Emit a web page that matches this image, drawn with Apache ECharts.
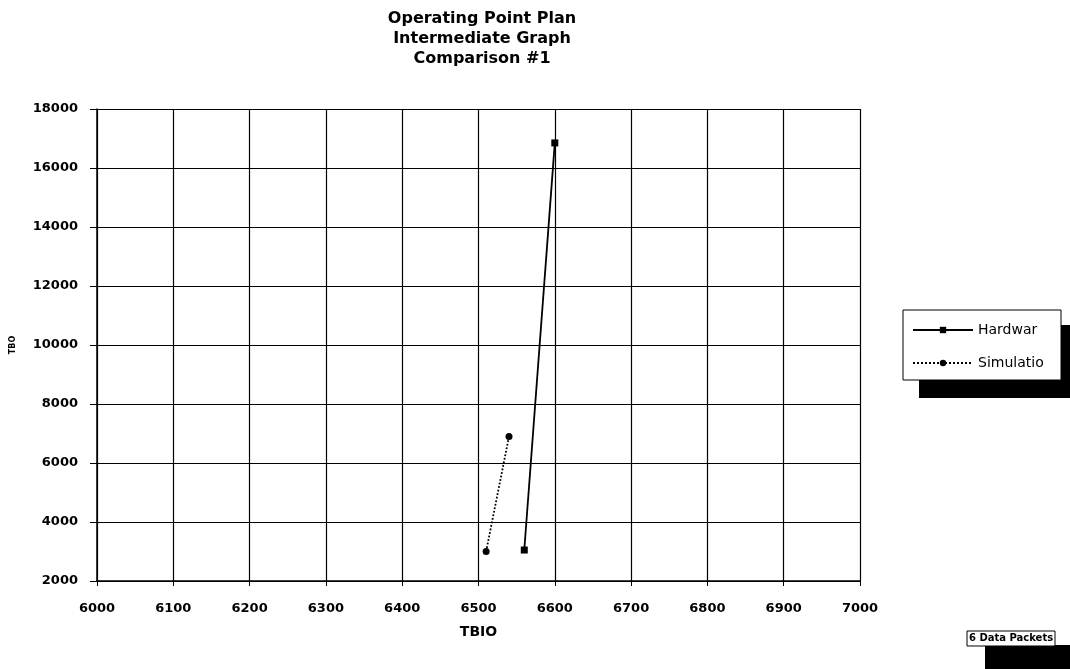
<!DOCTYPE html>
<html><head><meta charset="utf-8">
<script src="https://cdn.jsdelivr.net/npm/echarts@6/dist/echarts.min.js"></script>
<style>html,body{margin:0;padding:0;background:#fff}#c{width:1070px;height:669px}</style>
</head><body><div id="c"></div>
<script>
const titleLines = ['Operating Point Plan', 'Intermediate Graph', 'Comparison #1'];
const xName = 'TBIO';
const yName = 'TBO';
const seriesNames = ['Hardwar', 'Simulatio'];
const hardwareX = [6560, 6600];
const hardwareY = [3050, 16850];
const simulationX = [6510, 6540];
const simulationY = [3000, 6900];
const packetsNote = '6 Data Packets';

const font = '"DejaVu Sans", sans-serif';
const chart = echarts.init(document.getElementById('c'));
const pairs = (xs, ys) => xs.map((x, i) => [x, ys[i]]);

chart.setOption({
  animation: false,
  backgroundColor: '#fff',
  title: {
    text: titleLines.join('\n'),
    left: 477, top: 4, textAlign: 'center',
    textStyle: { fontFamily: font, fontSize: 16, fontWeight: 'bold', color: '#000', lineHeight: 20 }
  },
  grid: { left: 97, right: 210, top: 109, bottom: 88 },
  xAxis: {
    type: 'value', min: 6000, max: 7000, interval: 100,
    name: xName, nameLocation: 'middle', nameGap: 51, nameMoveOverlap: false,
    nameTextStyle: { fontFamily: font, fontSize: 14, fontWeight: 'bold', color: '#000', verticalAlign: 'middle' },
    axisLine: { show: true, lineStyle: { color: '#000', width: 1.5 } },
    axisTick: { show: true, length: 5, lineStyle: { color: '#000' } },
    axisLabel: { fontFamily: font, fontSize: 13, fontWeight: 'bold', color: '#000', margin: 21, formatter: v => String(v) },
    splitLine: { show: true, lineStyle: { color: '#000', width: 1.2 } }
  },
  yAxis: {
    type: 'value', min: 2000, max: 18000, interval: 2000,
    name: yName, nameLocation: 'middle', nameGap: 84, nameRotate: 90, nameMoveOverlap: false,
    nameTextStyle: { fontFamily: font, fontSize: 8, fontWeight: 'bold', color: '#000', verticalAlign: 'middle' },
    axisLine: { show: true, lineStyle: { color: '#000', width: 1.5 } },
    axisTick: { show: true, length: 7, lineStyle: { color: '#000' } },
    axisLabel: { fontFamily: font, fontSize: 13, fontWeight: 'bold', color: '#000', margin: 19, formatter: v => String(v) },
    splitLine: { show: true, lineStyle: { color: '#000', width: 1.2 } }
  },
  legend: {
    orient: 'vertical', left: 912, top: 323, itemGap: 19,
    itemWidth: 60, itemHeight: 8, padding: 0,
    textStyle: { fontFamily: font, fontSize: 14, color: '#000', lineHeight: 14 },
    data: seriesNames
  },
  graphic: [
    { type: 'rect', z: 0, shape: { x: 919, y: 325, width: 151, height: 73 }, style: { fill: '#000' } },
    { type: 'rect', z: 1, shape: { x: 903, y: 310, width: 158, height: 70 }, style: { fill: '#fff', stroke: '#000', lineWidth: 1 } },
    { type: 'rect', z: 0, shape: { x: 985, y: 645, width: 85, height: 24 }, style: { fill: '#000' } },
    { type: 'rect', z: 1, shape: { x: 967, y: 631, width: 88, height: 15 }, style: { fill: '#fff', stroke: '#000', lineWidth: 1 } },
    { type: 'text', z: 2, left: 969, top: 633, style: { text: packetsNote, font: 'bold 10px ' + font, fill: '#000' } }
  ],
  series: [
    {
      name: seriesNames[0], type: 'line', data: pairs(hardwareX, hardwareY),
      symbol: 'rect', symbolSize: 7, z: 5,
      lineStyle: { color: '#000', width: 1.8, type: 'solid' },
      itemStyle: { color: '#000' }
    },
    {
      name: seriesNames[1], type: 'line', data: pairs(simulationX, simulationY),
      symbol: 'circle', symbolSize: 7, z: 5,
      lineStyle: { color: '#000', width: 1.8, type: 'dotted' },
      itemStyle: { color: '#000' }
    }
  ]
});
</script></body></html>
